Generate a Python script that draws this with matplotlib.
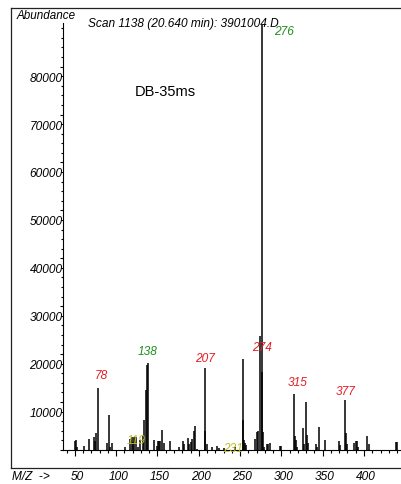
import matplotlib
matplotlib.use('Agg')
import matplotlib.pyplot as plt
from matplotlib.lines import Line2D
from matplotlib.ticker import MultipleLocator

# mass spectrum
mz = [50, 51, 53, 61, 67, 73, 74, 76, 78, 89, 91, 92, 95, 111, 117, 119, 120,
      122, 124, 126, 129, 132, 134, 136, 137, 138, 146, 149, 151, 152, 153, 156,
      158, 165, 176, 181, 182, 187, 188, 191, 192, 194, 196, 198, 207, 208, 210,
      216, 222, 224, 231, 244, 253, 254, 255, 256, 257, 268, 270, 272, 274, 276,
      277, 278, 279, 282, 284, 286, 298, 299, 315, 316, 318, 319, 326, 327, 330,
      331, 332, 342, 343, 345, 353, 370, 371, 377, 378, 379, 388, 390, 392, 393,
      404, 406, 439, 440]
abundance = [1900, 2000, 700, 800, 2200, 2800, 1900, 3600, 12900, 1400, 7400, 600,
             1500, 700, 2200, 2800, 1700, 2800, 2800, 700, 2100, 2900, 6300, 12500,
             17700, 18200, 2000, 800, 1800, 1900, 1800, 4100, 1400, 1900, 700, 1900,
             1300, 2600, 1300, 1700, 2200, 4000, 5100, 300, 17200, 4000, 1300, 600,
             900, 500, 500, 600, 19000, 6300, 2000, 1400, 1000, 2200, 3800, 4000,
             23800, 88700, 16300, 3800, 600, 1300, 1300, 1500, 800, 800, 11600, 2900,
             2000, 700, 4500, 1300, 10000, 3100, 1500, 1300, 700, 4700, 2000, 1900,
             1000, 10400, 3500, 1300, 1500, 1800, 1900, 700, 2900, 1300, 1700, 1700]

label_mz = [78, 138, 207, 274, 276, 315, 377, 119, 231]
label_colors = ['#e31e24', '#1f8f1f', '#e31e24', '#e31e24', '#1f8f1f',
                '#e31e24', '#e31e24', '#bdbd2a', '#bdbd2a']
# label offset from peak top, pixels (dx, dy up)
label_shift = [(3, 12), (0, 11), (0, 9), (2, -12), (22, -7),
               (4, 11), (1, 8), (4, -4), (9, -1)]

x_ticks = [50, 100, 150, 200, 250, 300, 350, 400]
y_ticks = [10000, 20000, 30000, 40000, 50000, 60000, 70000, 80000]

plt.rcParams['font.family'] = ['Liberation Sans', 'DejaVu Sans']

W, H = 402, 484
fig = plt.figure(figsize=(W / 100, H / 100), dpi=100)
fs = 8.6
px = 0.72  # points per pixel

ax = fig.add_axes([63 / W, (H - 450) / H, (W - 63) / W, (450 - 23) / H])
ax.vlines(mz, 0, abundance, color='black', lw=1.1)
ax.set_xlim(35.6, 446)
ax.set_ylim(0, 89100)

for s in ['top', 'right']:
    ax.spines[s].set_visible(False)
for s in ['left', 'bottom']:
    ax.spines[s].set_linewidth(0.8)

ax.xaxis.set_major_locator(MultipleLocator(50))
ax.xaxis.set_minor_locator(MultipleLocator(10))
ax.yaxis.set_major_locator(MultipleLocator(10000))
ax.yaxis.set_minor_locator(MultipleLocator(2000))
ax.tick_params(axis='x', which='major', direction='out', length=6 * px, width=0.8,
               labelbottom=False)
ax.tick_params(axis='x', which='minor', direction='out', length=3 * px, width=0.8)
ax.tick_params(axis='y', which='major', direction='out', length=3 * px, width=0.8,
               labelleft=False)
ax.tick_params(axis='y', which='minor', direction='out', length=2 * px, width=0.8)

# tick labels sit away from their ticks, like the instrument printout
for v in y_ticks:
    ax.annotate(str(v), xy=(0, v), xycoords=('axes fraction', 'data'),
                xytext=(-0.3, -12 * px), textcoords='offset points',
                ha='right', va='center', fontsize=fs, style='italic')
for v in x_ticks:
    ax.annotate(str(v), xy=(v, 0), xycoords=('data', 'axes fraction'),
                xytext=(2 * px, -27 * px), textcoords='offset points',
                ha='center', va='center', fontsize=fs, style='italic')

for m, c, (dx, dy) in zip(label_mz, label_colors, label_shift):
    top = abundance[mz.index(m)]
    ax.annotate(str(m), xy=(m, top), xytext=(dx * px, dy * px),
                textcoords='offset points', ha='center', va='center',
                fontsize=fs, style='italic', color=c)

ax.text(160, (450 - 92) / 47.9 * 10000, 'DB-35ms', fontsize=10.5,
        ha='center', va='center')

# outer frame
fc = '#222222'
fig.add_artist(Line2D([11 / W, 11 / W], [(H - 468) / H, (H - 8) / H],
                      color=fc, lw=0.9, transform=fig.transFigure))
fig.add_artist(Line2D([11 / W, 1], [(H - 8) / H, (H - 8) / H],
                      color=fc, lw=0.9, transform=fig.transFigure))
fig.add_artist(Line2D([11 / W, 1], [(H - 468) / H, (H - 468) / H],
                      color=fc, lw=0.9, transform=fig.transFigure))

fig.text(17 / W, 1 - 16 / H, 'Abundance', fontsize=8.4, style='italic',
         ha='left', va='center')
fig.text(88 / W, 1 - 24 / H, 'Scan 1138 (20.640 min): 3901004.D', fontsize=fs,
         style='italic', ha='left', va='center')
fig.text(12 / W, 1 - 477 / H, 'M/Z  ->', fontsize=fs, style='italic',
         ha='left', va='center')

fig.savefig('out.png', dpi=100)
